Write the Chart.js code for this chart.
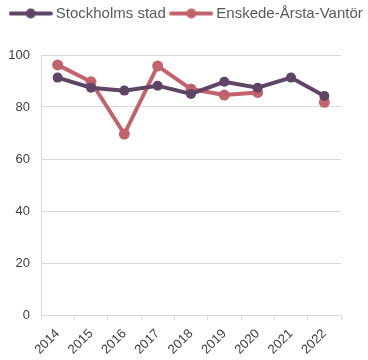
<!DOCTYPE html>
<html>
<head>
<meta charset="utf-8">
<script src="https://cdn.jsdelivr.net/npm/chart.js@4/dist/chart.umd.min.js"></script>
<style>
  html, body { margin: 0; padding: 0; background: #fff; }
  canvas { display: block; }
</style>
</head>
<body>
<canvas id="chart" width="368" height="360"></canvas>
<script>
const years = ['2014', '2015', '2016', '2017', '2018', '2019', '2020', '2021', '2022'];
const stockholm = [91.3, 87.4, 86.3, 88.2, 85.0, 89.7, 87.4, 91.3, 84.2];
const enskede = [96.2, 89.7, 69.6, 95.8, 86.9, 84.6, 85.6, null, 81.8];
const yTicks = [0, 20, 40, 60, 80, 100];

const purple = '#5e4566';
const red = '#c4626b';
const fontFamily = 'Liberation Sans, Arial, sans-serif';

// liten symbol för legenden: linje med punkt i mitten
const legendSymbol = (color) => {
    const c = document.createElement('canvas');
    c.width = 44;
    c.height = 12;
    const g = c.getContext('2d');
    g.strokeStyle = color;
    g.lineWidth = 4;
    g.lineCap = 'round';
    g.beginPath();
    g.moveTo(2, 6);
    g.lineTo(42, 6);
    g.stroke();
    g.fillStyle = color;
    g.beginPath();
    g.arc(22, 6, 5, 0, Math.PI * 2);
    g.fill();
    return c;
}

// mer luft under legenden och flytta den lite
const legendSpacing = {
    id: 'legendSpacing',
    beforeInit(chart) {
        const fit = chart.legend.fit;
        chart.legend.fit = function () {
            fit.call(this);
            this.height += 22;
        };
    },
    afterLayout(chart) {
        chart.legend.top -= 2;
        chart.legend.left += 4;
        chart.legend.right += 4;
    }
};

const ctx = document.getElementById('chart').getContext('2d');

new Chart(ctx, {
    type: 'line',
    data: {
        labels: years,
        datasets: [{
            label: 'Stockholms stad',
            data: stockholm,
            borderColor: purple,
            backgroundColor: purple,
            borderWidth: 4,
            pointRadius: 5,
            pointBorderWidth: 0,
            tension: 0
        }, {
            label: 'Enskede-Årsta-Vantör',
            data: enskede,
            borderColor: red,
            backgroundColor: red,
            borderWidth: 4,
            pointRadius: 5.5,
            pointBorderWidth: 0,
            tension: 0,
            spanGaps: false
        }]
    },
    plugins: [legendSpacing],
    options: {
        responsive: false,
        animation: false,
        layout: { padding: 0 },
        plugins: {
            tooltip: { enabled: false },
            legend: {
                position: 'top',
                labels: {
                    usePointStyle: true,
                    pointStyleWidth: 35,
                    padding: 8,
                    color: '#595959',
                    font: { family: fontFamily, size: 15 },
                    generateLabels: (chart) => chart.data.datasets.map((ds, i) => ({
                        text: ds.label,
                        pointStyle: legendSymbol(ds.borderColor),
                        fillStyle: ds.borderColor,
                        strokeStyle: ds.borderColor,
                        fontColor: '#595959',
                        lineWidth: 0,
                        hidden: false,
                        datasetIndex: i
                    }))
                }
            }
        },
        scales: {
            x: {
                offset: true,
                afterFit: (axis) => {
                    axis.height = 45;
                },
                grid: {
                    offset: true,
                    drawOnChartArea: false,
                    drawTicks: true,
                    tickLength: 5,
                    color: '#d9d9d9',
                    lineWidth: 1
                },
                border: { color: '#d9d9d9', width: 1 },
                ticks: {
                    color: '#404040',
                    maxRotation: 45,
                    minRotation: 45,
                    padding: 6,
                    font: { family: fontFamily, size: 13 }
                }
            },
            y: {
                min: 0,
                max: 100,
                afterBuildTicks: (axis) => {
                    axis.ticks = yTicks.map(v => ({ value: v }));
                },
                afterFit: (axis) => {
                    axis.width = 41;
                },
                grid: {
                    color: '#d9d9d9',
                    lineWidth: 1,
                    drawTicks: false
                },
                border: { color: '#d9d9d9', width: 1 },
                ticks: {
                    color: '#404040',
                    padding: 11,
                    font: { family: fontFamily, size: 13 }
                }
            },
            // tom axel till höger som ger marginal
            yRight: {
                position: 'right',
                grid: { display: false },
                border: { display: false },
                ticks: { display: false },
                afterFit: (axis) => {
                    axis.width = 27;
                }
            }
        }
    }
});
</script>
</body>
</html>
